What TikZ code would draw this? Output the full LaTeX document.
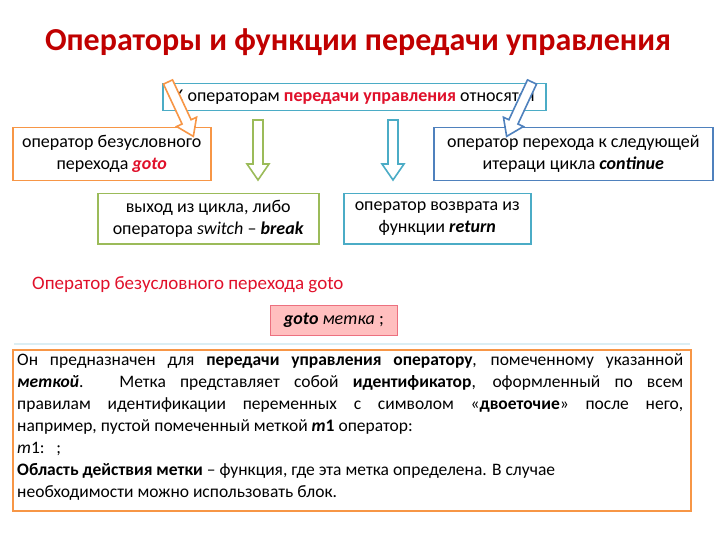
\documentclass[tikz,border=0pt]{standalone}
\usepackage{fontspec}
\setmainfont{Carlito}
\definecolor{tred}{HTML}{C00000}
\definecolor{bred}{HTML}{E0102A}
\definecolor{cor}{HTML}{F79646}
\definecolor{cgr}{HTML}{9BBB59}
\definecolor{ccy}{HTML}{4BACC6}
\definecolor{cbl}{HTML}{4F81BD}
\newcommand{\blockarrow}[4]{% x,y of tail, angle, color
  \begin{scope}[shift={(#1,#2)},rotate=#3]
  \draw[#4,line width=1.6pt,fill=white,line join=miter] (-5,0)--(5,0)--(5,44)--(11,44)--(0,60)--(-11,44)--(-5,44)--cycle;
  \end{scope}}
\begin{document}
\begin{tikzpicture}[x=1pt,y=-1pt,
  box/.style={draw=#1,line width=1.5pt,fill=white,align=center,font=\fontsize{18}{22}\selectfont,inner sep=3pt},
  every node/.style={text=black}]
\useasboundingbox (0,0) rectangle (720,540);
\node[font=\fontsize{32}{36}\selectfont\bfseries,text=tred] (title) at (358,42) {Операторы и функции передачи управления};
\node[box=ccy,minimum width=383,minimum height=27,anchor=north west,inner sep=1pt] (top) at (162,83) {К операторам {\bfseries\color{bred}передачи управления} относятся};
\blockarrow{258}{120}{0}{cgr}
\blockarrow{393}{120}{0}{ccy}
\node[box=cor,minimum width=198,minimum height=53,anchor=north west] (l) at (12,127) {оператор безусловного\\перехода \textbf{\textit{\color{bred}goto}}};
\node[box=cbl,minimum width=279,minimum height=53,anchor=north west] (r) at (433,127) {оператор перехода к следующей\\итераци цикла \textbf{\textit{continue}}};
\node[box=cgr,minimum width=221,minimum height=50,anchor=north west] (g) at (97,193) {выход из цикла, либо\\оператора \textit{switch} – \textbf{\textit{break}}};
\node[box=ccy,minimum width=187,minimum height=50,anchor=north west] (c) at (343,193) {оператор возврата из\\функции \textbf{\textit{return}}};
\blockarrow{168}{82}{25}{cor}
\blockarrow{532}{82}{-25}{cbl}
\node[anchor=west,font=\fontsize{19}{22}\selectfont,text=bred,inner sep=0pt] (sub) at (32,285) {Оператор безусловного перехода goto};
\node[draw=bred!60,fill=red!25,line width=0.8pt,minimum width=127,minimum height=30,anchor=north west,font=\fontsize{18}{22}\selectfont] (g2) at (270,305) {\textbf{\textit{goto}} \textit{метка} ;};
\draw[ccy!20,line width=2pt] (14,344)--(690,344);
\node[draw=cor,line width=2pt,fill=white,minimum width=678,minimum height=161,anchor=north west,inner sep=0pt] (big) at (12,349) {};
\node[anchor=north west,text width=666,align=justify,font=\fontsize{17.5}{22}\selectfont,inner sep=0pt] (txt) at (17,353) {Он предназначен для \textbf{передачи управления оператору}, помеченному указанной \textbf{\textit{меткой}}. Метка представляет собой \textbf{идентификатор}, оформленный по всем\linebreak правилам идентификации переменных с символом «\textbf{двоеточие}» после него,\linebreak например, пустой помеченный меткой \textbf{\textit{m}1} оператор:\par\raggedright
\textit{m}1:\ \ \ ;\par
\textbf{Область действия метки} – функция, где эта метка определена. В случае\\необходимости можно использовать блок.};
\end{tikzpicture}
\end{document}
